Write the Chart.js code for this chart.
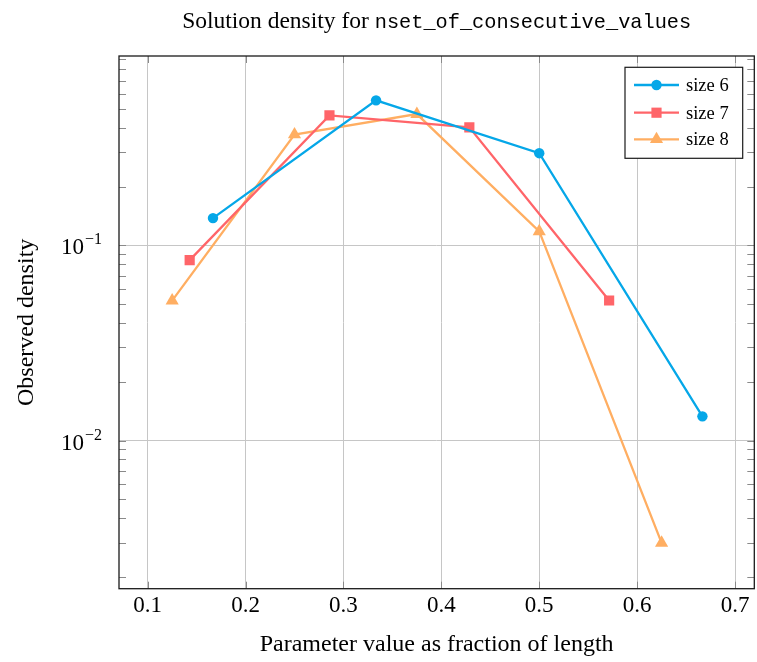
<!DOCTYPE html>
<html>
<head>
<meta charset="utf-8">
<script src="https://cdn.jsdelivr.net/npm/chart.js@4.4.1/dist/chart.umd.min.js"></script>
<style>
  html, body { margin: 0; padding: 0; background: #ffffff; }
  #wrap { width: 757px; height: 662px; }
</style>
</head>
<body>
<div id="wrap"><canvas id="c" width="757" height="662"></canvas></div>
<script>
// ---- data ----
const seriesNames = ["size 6", "size 7", "size 8"];
const size6X = [0.1667, 0.3333, 0.5, 0.6667];
const size6Y = [0.138, 0.554, 0.297, 0.0133];
const size7X = [0.1429, 0.2857, 0.4286, 0.5714];
const size7Y = [0.0841, 0.464, 0.403, 0.0522];
const size8X = [0.125, 0.25, 0.375, 0.5, 0.625];
const size8Y = [0.0521, 0.370, 0.471, 0.118, 0.00299];
const xTickValues = [0.1, 0.2, 0.3, 0.4, 0.5, 0.6, 0.7];
const yTickValues = [0.01, 0.1];
const yTickExponents = ["\u22122", "\u22121"];
const titleText = "Solution density for ";
const titleCode = "nset_of_consecutive_values";
const xTitle = "Parameter value as fraction of length";
const yTitle = "Observed density";

// ---- styles ----
const colors = ["#05A7E8", "#FF6569", "#FFAE62"];
const styles = ["circle", "rect", "triangle"];
const radii = [5.2, 7.2, 7.6];
const SERIF = "'Liberation Serif', 'Times New Roman', serif";
const MONO = "'Liberation Mono', 'DejaVu Sans Mono', monospace";

function pts(xs, ys) { return xs.map((x, i) => ({ x: x, y: ys[i] })); }
const seriesData = [pts(size6X, size6Y), pts(size7X, size7Y), pts(size8X, size8Y)];

const datasets = seriesData.map((d, i) => ({
  label: seriesNames[i],
  data: d,
  borderColor: colors[i],
  backgroundColor: colors[i],
  borderWidth: 2.3,
  pointStyle: styles[i],
  pointRadius: radii[i],
  pointHoverRadius: radii[i],
  pointBackgroundColor: colors[i],
  pointBorderColor: colors[i],
  pointBorderWidth: 0,
  tension: 0,
  fill: false
}));

const decorPlugin = {
  id: 'decor',
  afterDraw(chart) {
    const ctx = chart.ctx;
    const area = chart.chartArea;
    const xs = chart.scales.x, ys = chart.scales.y;
    ctx.save();
    // minor / major ticks on y (left & right, inward)
    ctx.strokeStyle = '#8a8a8a';
    ctx.lineWidth = 1;
    const decades = [0.001, 0.01, 0.1];
    ctx.beginPath();
    decades.forEach(d => {
      for (let m = 1; m <= 9; m++) {
        const v = d * m;
        if (v < ys.min || v > ys.max) continue;
        const py = Math.round(ys.getPixelForValue(v)) + 0.5;
        ctx.moveTo(area.left, py); ctx.lineTo(area.left + 7, py);
        ctx.moveTo(area.right, py); ctx.lineTo(area.right - 7, py);
      }
    });
    // x major ticks top & bottom
    xTickValues.forEach(v => {
      const px = Math.round(xs.getPixelForValue(v)) + 0.5;
      ctx.moveTo(px, area.bottom); ctx.lineTo(px, area.bottom - 7);
      ctx.moveTo(px, area.top); ctx.lineTo(px, area.top + 7);
    });
    ctx.stroke();
    // frame
    ctx.strokeStyle = '#1a1a1a';
    ctx.lineWidth = 1.3;
    ctx.strokeRect(area.left, area.top, area.right - area.left, area.bottom - area.top);

    // y tick labels 10^-k
    ctx.fillStyle = '#000';
    ctx.textBaseline = 'alphabetic';
    yTickValues.forEach((v, i) => {
      const py = ys.getPixelForValue(v);
      ctx.font = "23px " + SERIF;
      ctx.textAlign = 'right';
      ctx.fillText("10", 84, py + 9);
      ctx.font = "16px " + SERIF;
      ctx.textAlign = 'left';
      ctx.fillText(yTickExponents[i], 85, py - 1);
    });

    // title (serif + monospace)
    ctx.textAlign = 'left';
    ctx.font = "23.5px " + SERIF;
    const w1 = ctx.measureText(titleText).width;
    ctx.font = "20.3px " + MONO;
    const w2 = ctx.measureText(titleCode).width;
    const cx = (area.left + area.right) / 2;
    const start = cx - (w1 + w2) / 2;
    ctx.font = "23.5px " + SERIF;
    ctx.fillText(titleText, start, 28);
    ctx.font = "20.3px " + MONO;
    ctx.fillText(titleCode, start + w1, 28);

    // legend
    const lx = 625, ly = 67.3, lw = 117.7, lh = 91;
    ctx.fillStyle = '#fff';
    ctx.fillRect(lx, ly, lw, lh);
    ctx.strokeStyle = '#1a1a1a';
    ctx.lineWidth = 1.2;
    ctx.strokeRect(lx, ly, lw, lh);
    const rowY = [85, 112.7, 139.3];
    seriesNames.forEach((name, i) => {
      const y = rowY[i];
      ctx.strokeStyle = colors[i];
      ctx.lineWidth = 2.3;
      ctx.beginPath(); ctx.moveTo(634, y); ctx.lineTo(679, y); ctx.stroke();
      ctx.fillStyle = colors[i];
      ctx.strokeStyle = colors[i];
      ctx.lineWidth = 0;
      Chart.helpers.drawPoint(ctx, { pointStyle: styles[i], radius: radii[i], rotation: 0, borderWidth: 0 }, 656.5, y);
      ctx.fillStyle = '#000';
      ctx.font = "18.5px " + SERIF;
      ctx.textBaseline = 'middle';
      ctx.textAlign = 'left';
      ctx.fillText(name, 686, y + 1);
    });
    ctx.restore();
  }
};

new Chart(document.getElementById('c'), {
  type: 'line',
  data: { datasets: datasets },
  options: {
    responsive: false,
    animation: false,
    devicePixelRatio: 1,
    events: [],
    layout: { autoPadding: false, padding: { top: 56, right: 2.7, left: 0, bottom: 0 } },
    plugins: { legend: { display: false }, title: { display: false }, tooltip: { enabled: false } },
    scales: {
      x: {
        type: 'linear',
        min: 0.0707,
        max: 0.7197,
        afterBuildTicks: s => { s.ticks = xTickValues.map(v => ({ value: v })); },
        afterFit: s => { s.height = 662 - 588.7; s.paddingLeft = 0; s.paddingRight = 0; },
        grid: { color: '#c6c6c6', lineWidth: 1, drawTicks: false },
        border: { display: false },
        ticks: {
          padding: 3,
          maxRotation: 0,
          autoSkip: false,
          color: '#000',
          font: { family: SERIF, size: 23 },
          callback: v => Number(v).toFixed(1)
        },
        title: {
          display: true,
          text: xTitle,
          color: '#000',
          font: { family: SERIF, size: 24 },
          padding: { top: 0, bottom: 3.3 }
        }
      },
      y: {
        type: 'logarithmic',
        min: 0.00174,
        max: 0.935,
        afterBuildTicks: s => { s.ticks = yTickValues.map(v => ({ value: v })); },
        afterFit: s => { s.width = 119; s.paddingTop = 0; s.paddingBottom = 0; },
        grid: { color: '#c6c6c6', lineWidth: 1, drawTicks: false },
        border: { display: false },
        ticks: { display: false },
        title: {
          display: true,
          text: yTitle,
          color: '#000',
          font: { family: SERIF, size: 24 },
          padding: { top: 12, bottom: 0 }
        }
      }
    }
  },
  plugins: [decorPlugin]
});
</script>
</body>
</html>
